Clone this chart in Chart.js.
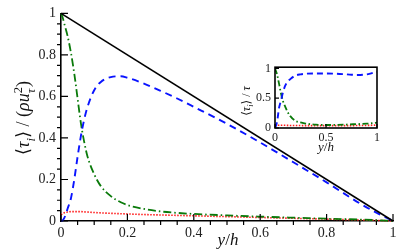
<!DOCTYPE html>
<html>
<head>
<meta charset="utf-8">
<script src="https://cdn.jsdelivr.net/npm/chart.js@4"></script>
<style>
  html, body { margin: 0; padding: 0; background: #fff; }
  #wrap { position: relative; width: 407px; height: 252px; }
  #main { position: absolute; left: 0; top: 0; width: 407px; height: 252px; }
  #inset { position: absolute; left: 230px; top: 56px; width: 155px; height: 100px; }
</style>
</head>
<body>
<div id="wrap">
  <div id="main"><canvas id="mainChart"></canvas></div>
  <div id="inset"><canvas id="insetChart"></canvas></div>
</div>
<script>
// main plot: stress components vs y/h
const yh        = [0, 0.005, 0.01, 0.02, 0.03, 0.04, 0.05, 0.06, 0.07, 0.08, 0.1, 0.12, 0.15, 0.18, 0.2, 0.25, 0.3, 0.35, 0.4, 0.5, 0.6, 0.7, 0.8, 0.9, 0.95, 1];
const reynolds  = [0, 0.003, 0.015, 0.06, 0.11, 0.2, 0.31, 0.41, 0.49, 0.55, 0.63, 0.67, 0.693, 0.697, 0.69, 0.662, 0.627, 0.59, 0.55, 0.468, 0.378, 0.283, 0.186, 0.085, 0.04, 0];
const viscous   = [1, 0.98, 0.95, 0.89, 0.81, 0.71, 0.59, 0.47, 0.38, 0.31, 0.225, 0.168, 0.12, 0.09, 0.077, 0.058, 0.046, 0.039, 0.034, 0.027, 0.021, 0.016, 0.011, 0.007, 0.004, 0];
const other     = [0.03, 0.036, 0.04, 0.043, 0.045, 0.045, 0.045, 0.045, 0.044, 0.043, 0.041, 0.039, 0.037, 0.035, 0.034, 0.031, 0.029, 0.027, 0.025, 0.021, 0.017, 0.013, 0.009, 0.005, 0.003, 0];
const totalX    = [0, 1];
const total     = [1, 0];
const mainTicks = [0, 0.2, 0.4, 0.6, 0.8, 1];

// inset: components normalised by local total stress
const insetX        = [0, 0.02, 0.04, 0.06, 0.08, 0.1, 0.12, 0.15, 0.2, 0.25, 0.3, 0.4, 0.5, 0.6, 0.7, 0.8, 0.9, 0.95, 1];
const insetReynolds = [0, 0.1, 0.34, 0.47, 0.61, 0.71, 0.77, 0.82, 0.88, 0.9, 0.91, 0.915, 0.915, 0.91, 0.9, 0.89, 0.9, 0.92, 0.94];
const insetViscous  = [1, 0.9, 0.74, 0.57, 0.44, 0.36, 0.28, 0.2, 0.12, 0.095, 0.075, 0.055, 0.05, 0.052, 0.058, 0.065, 0.072, 0.08, 0.09];
const insetOther    = [0.03, 0.045, 0.045, 0.045, 0.045, 0.045, 0.044, 0.043, 0.042, 0.041, 0.04, 0.04, 0.04, 0.04, 0.04, 0.041, 0.043, 0.045, 0.05];
const insetTicks    = [0, 0.5, 1];

const SERIF = '"Liberation Serif", "DejaVu Serif", serif';
const pts = (xs, ys) => xs.map((x, i) => ({ x: x, y: ys[i] }));
const fmt = v => String(Math.round(v * 10) / 10);

// draw a label made of pieces (italic, subscript, superscript)
function drawRich(ctx, parts, cx, cy, angle, size) {
    const fontOf = p => (p.it ? 'italic ' : '') + (p.small ? size * 0.7 : size) + 'px ' + SERIF;
    let widths = parts.map(p => {
        if (p.stack) {
            return Math.max(...p.stack.map(s => { ctx.font = fontOf(s); return ctx.measureText(s.t).width; }));
        }
        ctx.font = fontOf(p);
        return ctx.measureText(p.t).width;
    });
    const W = widths.reduce((a, b) => a + b, 0);
    ctx.save();
    ctx.translate(cx, cy);
    ctx.rotate(angle);
    ctx.fillStyle = '#111';
    ctx.textBaseline = 'alphabetic';
    ctx.textAlign = 'left';
    let x = -W / 2;
    const base = size * 0.35;
    const shiftOf = p => p.sub ? size * 0.3 : (p.sup ? -size * 0.42 : 0);
    parts.forEach((p, i) => {
        const items = p.stack ? p.stack : [p];
        items.forEach(s => {
            ctx.font = fontOf(s);
            ctx.fillText(s.t, x, base + shiftOf(s));
        });
        x += widths[i];
    });
    ctx.restore();
}

// ticks: majors pointing inward, minors pointing outward; plus axis titles
const decorPlugin = {
    id: 'decor',
    afterDraw(chart, args, opts) {
        const ctx = chart.ctx;
        const xs = chart.scales.x, ys = chart.scales.y;
        const area = chart.chartArea;
        ctx.save();
        ctx.strokeStyle = '#000';
        ctx.lineWidth = 1.2;
        ctx.beginPath();
        opts.major.forEach(v => {
            const px = xs.getPixelForValue(v), py = ys.getPixelForValue(v);
            const dir = opts.majorLen;
            ctx.moveTo(px, area.bottom); ctx.lineTo(px, area.bottom - dir);
            ctx.moveTo(area.left, py); ctx.lineTo(area.left + dir, py);
        });
        opts.minor.forEach(v => {
            const px = xs.getPixelForValue(v), py = ys.getPixelForValue(v);
            ctx.moveTo(px, area.bottom); ctx.lineTo(px, area.bottom + opts.minorLen);
            ctx.moveTo(area.left, py); ctx.lineTo(area.left - opts.minorLen, py);
        });
        ctx.stroke();
        if (opts.box) {
            ctx.lineWidth = 1.6;
            ctx.strokeRect(area.left, area.top, area.right - area.left, area.bottom - area.top);
        }
        ctx.restore();
        drawRich(ctx, opts.xTitle, opts.xPos[0], opts.xPos[1], 0, opts.xSize);
        drawRich(ctx, opts.yTitle, opts.yPos[0], opts.yPos[1], -Math.PI / 2, opts.ySize);
    }
};

const yhTitle = [{ t: 'y', it: true }, { t: '/' }, { t: 'h', it: true }];

const mainMinor = [];
for (let k = 1; k < 20; k++) if (k % 4 !== 0) mainMinor.push(k / 20);

new Chart(document.getElementById('mainChart'), {
    type: 'line',
    data: {
        datasets: [
            { data: pts(totalX, total), borderColor: '#000', borderWidth: 1.6 },
            { data: pts(yh, reynolds), borderColor: '#0a14ff', borderWidth: 1.9, borderDash: [7, 5] },
            { data: pts(yh, viscous), borderColor: '#0a7a0a', borderWidth: 1.8, borderDash: [8, 3, 1.5, 3] },
            { data: pts(yh, other), borderColor: '#ff1a1a', borderWidth: 1.6, borderDash: [1.5, 1.5] }
        ]
    },
    options: {
        responsive: true,
        maintainAspectRatio: false,
        animation: false,
        layout: { padding: { left: 0, right: 14, top: 9, bottom: 0 } },
        elements: { point: { radius: 0 }, line: { tension: 0.4, cubicInterpolationMode: 'monotone' } },
        datasets: { line: { clip: false } },
        plugins: {
            legend: { display: false },
            tooltip: { enabled: false },
            decor: {
                major: mainTicks, minor: mainMinor, majorLen: 7, minorLen: 4, box: false,
                xTitle: yhTitle, xPos: [228, 239], xSize: 17,
                yTitle: [
                    { t: '\u27E8' }, { t: '\u03C4', it: true }, { t: 'i', it: true, small: true, sub: true }, { t: '\u27E9' },
                    { t: ' / ' }, { t: '(' }, { t: '\u03C1', it: true }, { t: 'u', it: true },
                    { stack: [{ t: '2', small: true, sup: true }, { t: '\u03C4', it: true, small: true, sub: true }] },
                    { t: ')' }
                ],
                yPos: [23, 118], ySize: 18
            }
        },
        scales: {
            x: {
                type: 'linear', min: 0, max: 1,
                grid: { display: false, drawTicks: false },
                border: { display: true, color: '#000', width: 1.6 },
                ticks: { stepSize: 0.2, padding: 4, color: '#222', font: { family: SERIF, size: 14 }, callback: fmt },
                afterFit: s => { s.height = 31; }
            },
            y: {
                min: 0, max: 1,
                grid: { display: false, drawTicks: false },
                border: { display: true, color: '#000', width: 1.6 },
                ticks: { stepSize: 0.2, padding: 5, color: '#222', font: { family: SERIF, size: 14 }, callback: fmt },
                afterFit: s => { s.width = 61; }
            }
        }
    },
    plugins: [decorPlugin]
});

new Chart(document.getElementById('insetChart'), {
    type: 'line',
    data: {
        datasets: [
            { data: pts(insetX, insetReynolds), borderColor: '#0a14ff', borderWidth: 1.9, borderDash: [6, 4] },
            { data: pts(insetX, insetViscous), borderColor: '#0a7a0a', borderWidth: 1.8, borderDash: [6, 2.5, 1.5, 2.5] },
            { data: pts(insetX, insetOther), borderColor: '#ff1a1a', borderWidth: 1.6, borderDash: [1.5, 1.5] }
        ]
    },
    options: {
        responsive: true,
        maintainAspectRatio: false,
        animation: false,
        layout: { padding: { left: 0, right: 8, top: 10, bottom: 0 } },
        elements: { point: { radius: 0 }, line: { tension: 0.4, cubicInterpolationMode: 'monotone' } },
        plugins: {
            legend: { display: false },
            tooltip: { enabled: false },
            decor: {
                major: insetTicks, minor: [], majorLen: 4, minorLen: 0, box: true,
                xTitle: yhTitle, xPos: [96, 90], xSize: 13,
                yTitle: [
                    { t: '\u27E8' }, { t: '\u03C4', it: true }, { t: 'i', it: true, small: true, sub: true }, { t: '\u27E9' },
                    { t: ' / ' }, { t: '\u03C4', it: true }
                ],
                yPos: [15.5, 45], ySize: 12
            }
        },
        scales: {
            x: {
                type: 'linear', min: 0, max: 1,
                grid: { display: false, drawTicks: false },
                border: { display: false },
                ticks: { stepSize: 0.5, padding: 3, color: '#222', font: { family: SERIF, size: 12 }, callback: fmt },
                afterFit: s => { s.height = 28; }
            },
            y: {
                min: 0, max: 1.02,
                grid: { display: false, drawTicks: false },
                border: { display: false },
                afterBuildTicks: s => { s.ticks = insetTicks.map(v => ({ value: v })); },
                ticks: { padding: 4, color: '#222', font: { family: SERIF, size: 12 }, callback: fmt },
                afterFit: s => { s.width = 45; }
            }
        }
    },
    plugins: [decorPlugin]
});
</script>
</body>
</html>
